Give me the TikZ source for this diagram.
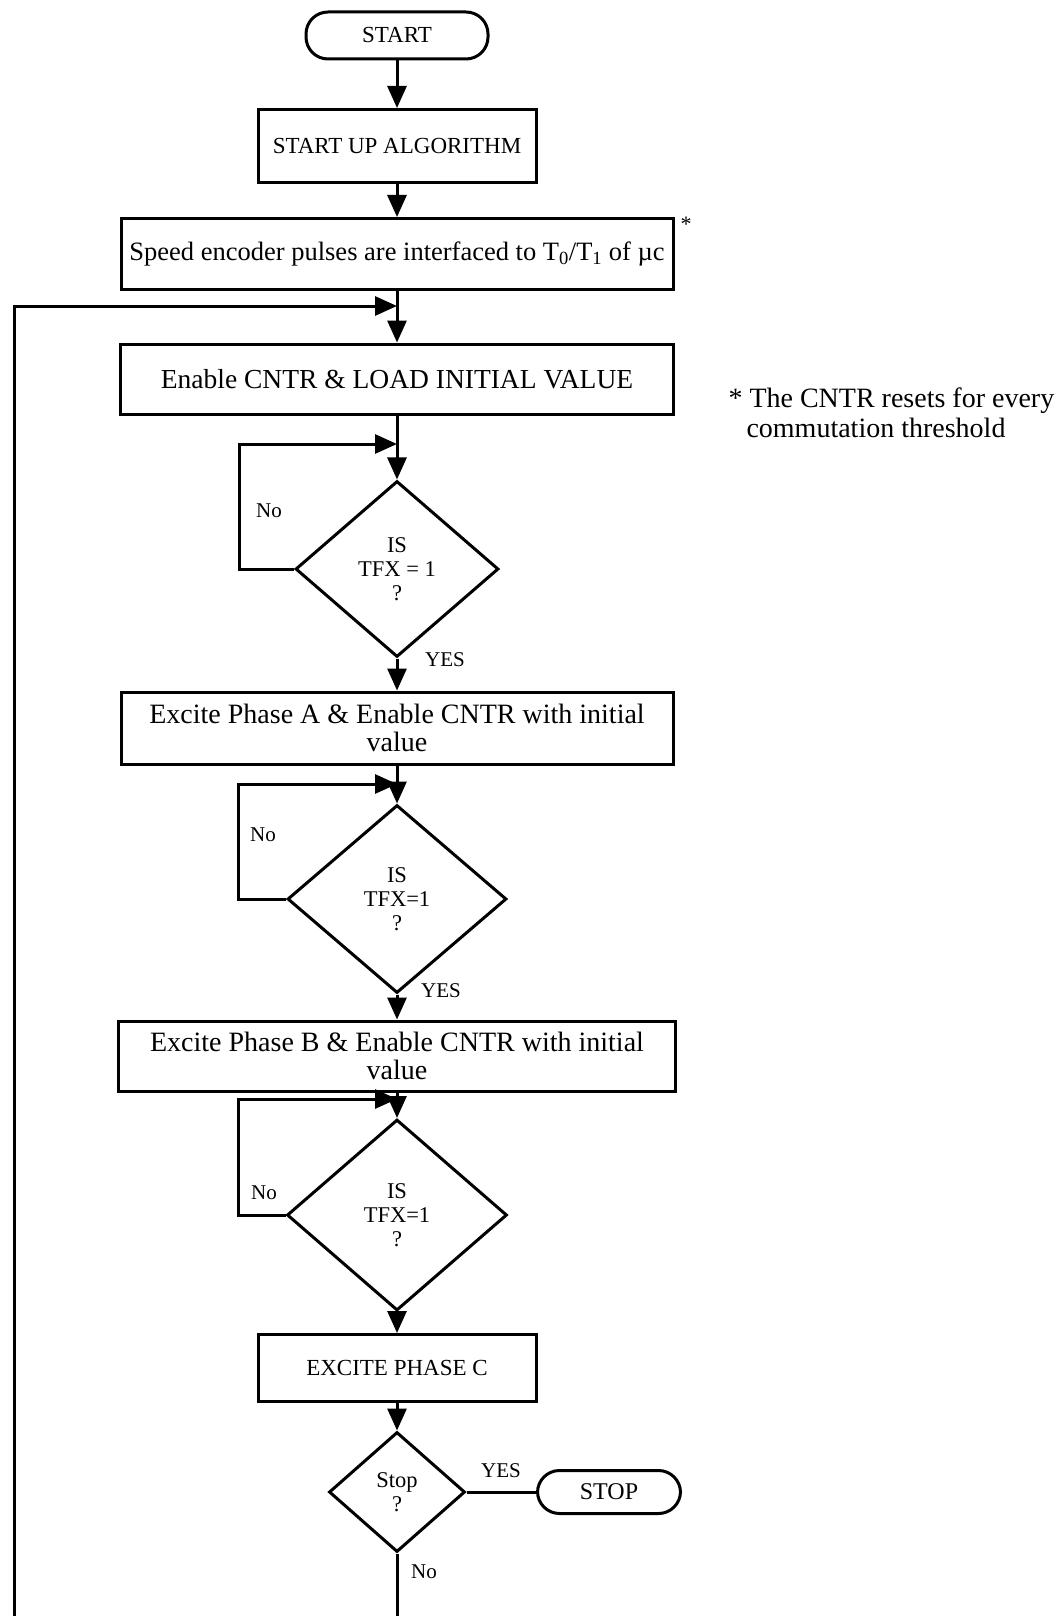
\documentclass[tikz,border=0pt]{standalone}
\usepackage{fontspec}
\setmainfont{Liberation Serif}
\usetikzlibrary{arrows.meta,shapes.geometric}

\begin{document}
\begin{tikzpicture}[x=1pt,y=-1pt,
  line width=3pt,
  flow/.style={-{Triangle[length=22pt,width=19pt]}},
  box/.style={draw, rectangle, inner sep=0pt, align=center},
  term/.style={draw, rectangle, rounded corners=22pt, inner sep=0pt},
  dec/.style={draw, diamond, inner sep=0pt, align=center, aspect=1,
              font=\fontsize{22.5}{24}\selectfont},
  fsmall/.style={font=\fontsize{23}{26}\selectfont},
  fbig/.style={font=\fontsize{28}{28}\selectfont},
  lbl/.style={inner sep=0pt, font=\fontsize{21}{24}\selectfont}
]
\useasboundingbox (0,0) rectangle (1064,1616);

% main column
\node[term, fsmall, minimum width=182, minimum height=47] (start) at (397,35.5) {START};
\node[box, fsmall, minimum width=278, minimum height=73] (sua) at (397,146) {START UP ALGORITHM};
\node[box, font=\fontsize{26.5}{28}\selectfont, minimum width=552, minimum height=71] (enc) at (397,254)
  {Speed encoder pulses are interfaced to T\textsubscript{0}/T\textsubscript{1} of µc};
\node[lbl, font=\fontsize{22}{24}\selectfont] (star) at (686,224) {*};
\node[box, font=\fontsize{27.5}{28}\selectfont, minimum width=553, minimum height=70] (ena) at (397,379)
  {Enable CNTR \& LOAD INITIAL VALUE};
\node[dec, minimum width=203, minimum height=176] (d1) at (397,569) {IS\\TFX = 1\\?};
\node[box, fbig, minimum width=552, minimum height=72] (exa) at (397,728)
  {Excite Phase A \& Enable CNTR with initial\\value};
\node[dec, minimum width=219, minimum height=188] (d2) at (397,899) {IS\\TFX=1\\?};
\node[box, fbig, minimum width=557, minimum height=70] (exb) at (397,1056)
  {Excite Phase B \& Enable CNTR with initial\\value};
\node[dec, minimum width=220, minimum height=191] (d3) at (397,1215) {IS\\TFX=1\\?};
\node[box, fsmall, minimum width=278, minimum height=67] (exc) at (397,1368) {EXCITE PHASE C};
\node[dec, minimum width=136, minimum height=120] (ds) at (397,1492) {Stop\\?};
\node[term, font=\fontsize{24}{26}\selectfont, minimum width=143, minimum height=43] (stop) at (609,1492) {STOP};

% side note
\node[anchor=west, inner sep=0pt, font=\fontsize{28}{28}\selectfont] (note1) at (727,401) {* The CNTR resets for every};
\node[anchor=west, inner sep=0pt, font=\fontsize{28}{28}\selectfont] (note2) at (745,428) {commutation threshold};

% straight flow
\draw[flow] (start) -- (sua);
\draw[flow] (sua) -- (enc);
\draw[flow] (enc) -- (ena);
\draw[flow] (ena) -- (d1);
\draw[flow] (d1) -- (exa);
\draw[flow] (exa) -- (d2);
\draw[flow] (d2) -- (exb);
\draw[flow] (exb) -- (d3);
\draw[flow] (d3) -- (exc);
\draw[flow] (exc) -- (ds);
\draw (ds.east) -- (stop.west);

% wait loops
\coordinate (l1) at (239,444);
\coordinate (l2) at (238,784);
\coordinate (l3) at (238,1099);
\draw[flow] (d1.west) -| (l1) -- (d1.north |- l1);
\draw[flow] (d2.west) -| (l2) -- (d2.north |- l2);
\draw[flow] (d3.west) -| (l3) -- (d3.north |- l3);

% return path
\coordinate (bot) at (397,1616);
\coordinate (botl) at (14,1616);
\coordinate (fb) at (14,306);
\draw (ds) -- (bot);
\draw[flow] (botl) -- (fb) -- (enc.south |- fb);

% branch labels
\node[lbl] (no1) at (269,511) {No};
\node[lbl] (no2) at (263,835) {No};
\node[lbl] (no3) at (264,1193) {No};
\node[lbl] (no4) at (424,1572) {No};
\node[lbl] (yes1) at (445,660) {YES};
\node[lbl] (yes2) at (441,991) {YES};
\node[lbl] (yes3) at (501,1471) {YES};
\end{tikzpicture}
\end{document}
